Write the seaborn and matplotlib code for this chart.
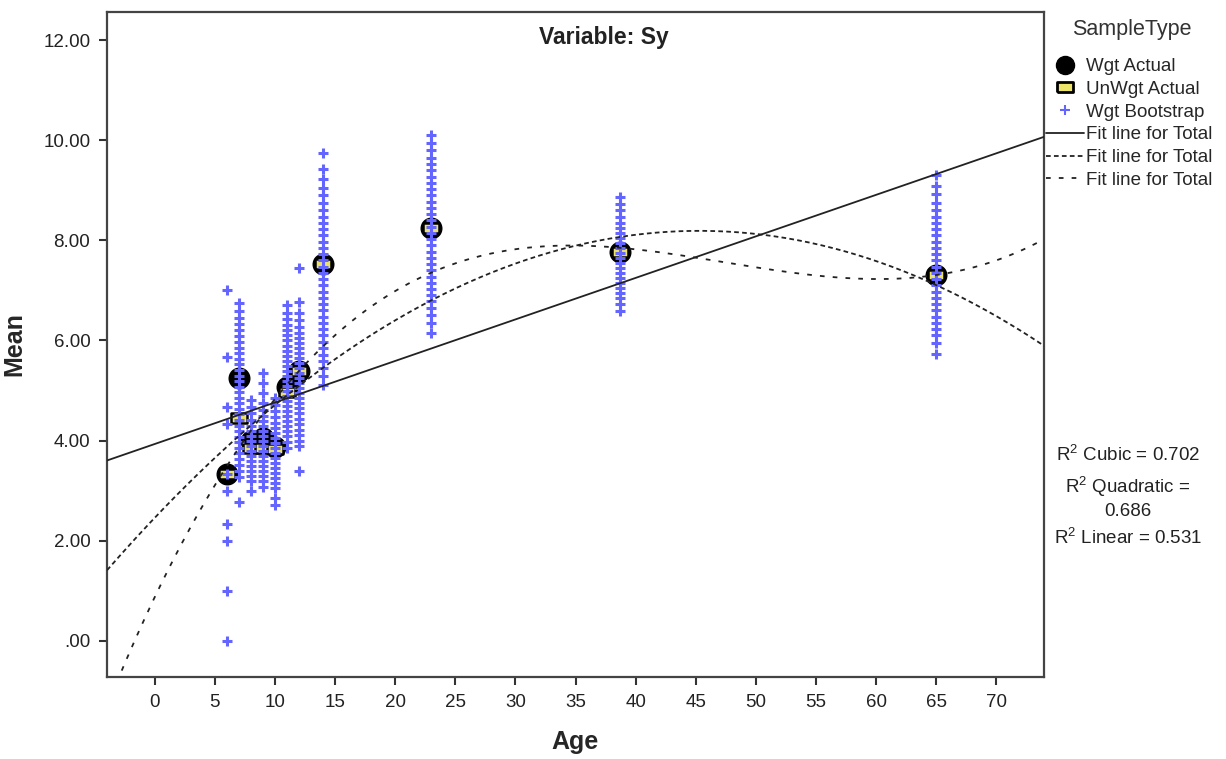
import numpy as np
import pandas as pd
import matplotlib
matplotlib.use("Agg")
import matplotlib.pyplot as plt
from matplotlib.lines import Line2D
import seaborn as sns

# actual means per age group
ages = [6, 7, 8, 9, 10, 11, 12, 14, 23, 38.7, 65]
wgt_actual = [3.33, 5.25, 4.0, 4.05, 3.87, 5.08, 5.4, 7.52, 8.24, 7.77, 7.31]
unwgt_actual = [3.33, 4.45, 3.85, 3.85, 3.83, 4.98, 5.39, 7.52, 8.24, 7.77, 7.31]

# bootstrap means read per column
boot_6 = [0.0, 1.0, 2.0, 2.33, 3.0, 3.33, 4.33, 4.67, 5.67, 7.0]
boot_7 = [2.78, 3.28, 3.4, 3.52, 3.63, 3.75, 3.85, 3.97, 4.08, 4.2, 4.3, 4.42, 4.53, 4.63, 4.75, 4.86,
          4.97, 5.08, 5.2, 5.3, 5.42, 5.53, 5.63, 5.75, 5.86, 5.97, 6.08, 6.2, 6.32, 6.45, 6.58, 6.74]
boot_8 = [2.99, 3.2, 3.3, 3.4, 3.5, 3.6, 3.7, 3.8, 3.9, 4.0, 4.1, 4.2, 4.3, 4.42, 4.55, 4.68, 4.82]
boot_9 = [3.07, 3.2, 3.3, 3.4, 3.5, 3.6, 3.7, 3.8, 3.9, 4.0, 4.1, 4.2, 4.3, 4.4, 4.5, 4.62, 4.75,
          4.95, 5.15, 5.35]
boot_10 = [2.72, 2.85, 3.05, 3.15, 3.25, 3.35, 3.45, 3.55, 3.65, 3.75, 3.85, 3.95, 4.05, 4.15, 4.25,
           4.35, 4.47, 4.6, 4.72, 4.85]
boot_11 = [3.86, 3.98, 4.1, 4.2, 4.3, 4.4, 4.5, 4.6, 4.7, 4.8, 4.9, 5.0, 5.1, 5.2, 5.3, 5.4, 5.5, 5.6,
           5.7, 5.8, 5.9, 6.0, 6.1, 6.2, 6.3, 6.42, 6.55, 6.7]
boot_12 = [3.4, 3.9, 4.0, 4.12, 4.22, 4.33, 4.43, 4.55, 4.65, 4.75, 4.85, 4.95, 5.05, 5.15, 5.25, 5.35,
           5.45, 5.55, 5.65, 5.75, 5.85, 5.95, 6.05, 6.15, 6.27, 6.4, 6.55, 6.77, 7.45]
boot_14 = [5.11, 5.3, 5.45, 5.6, 5.72, 5.85, 5.97, 6.1, 6.22, 6.35, 6.47, 6.6, 6.72, 6.85, 6.97, 7.1,
           7.22, 7.35, 7.47, 7.6, 7.72, 7.85, 7.97, 8.1, 8.22, 8.35, 8.47, 8.6, 8.75, 8.9, 9.05, 9.22,
           9.42, 9.74]
boot_23 = [6.14, 6.35, 6.5, 6.65, 6.78, 6.9, 7.02, 7.15, 7.27, 7.4, 7.52, 7.65, 7.77, 7.9, 8.02, 8.15,
           8.27, 8.4, 8.52, 8.65, 8.77, 8.9, 9.02, 9.15, 9.27, 9.4, 9.52, 9.65, 9.8, 9.95, 10.1]
boot_38 = [6.58, 6.72, 6.85, 6.95, 7.05, 7.15, 7.25, 7.35, 7.45, 7.55, 7.65, 7.75, 7.85, 7.95, 8.05,
           8.15, 8.25, 8.35, 8.47, 8.6, 8.72, 8.87]
boot_65 = [5.74, 5.95, 6.1, 6.22, 6.35, 6.47, 6.6, 6.72, 6.85, 6.97, 7.1, 7.22, 7.35, 7.47, 7.6, 7.72,
           7.85, 7.97, 8.1, 8.22, 8.35, 8.47, 8.6, 8.75, 8.92, 9.08, 9.3]
boot_columns = [boot_6, boot_7, boot_8, boot_9, boot_10, boot_11, boot_12, boot_14, boot_23,
                boot_38, boot_65]

# points
lin_age = [-3.9, 16.25, 73.9]
lin_mean = [3.6, 5.29, 10.06]
quad_age = [-3.9, 16.25, 45.3, 61.25, 68.75, 73.9]
quad_mean = [1.42, 5.84, 8.2, 7.45, 6.65, 5.92]
cubic_age = [-2.78, 2.78, 6.8, 16.25, 23, 36, 42, 61.7, 68.4, 73.9]
cubic_mean = [-0.6, 2.15, 3.76, 6.34, 7.45, 7.85, 7.72, 7.28, 7.48, 8.0]

r2_labels = ["R$^2$ Cubic = 0.702", "R$^2$ Quadratic =\n0.686", "R$^2$ Linear = 0.531"]

sns.set_theme(style="ticks")
plt.rcParams["font.family"] = ["Liberation Sans", "DejaVu Sans"]
plt.rcParams["mathtext.fontset"] = "custom"
plt.rcParams["mathtext.rm"] = "Liberation Sans"

actual_df = pd.DataFrame({"Age": ages, "Wgt": wgt_actual, "UnWgt": unwgt_actual})
boot_df = pd.DataFrame({
    "Age": np.repeat(ages, [len(c) for c in boot_columns]),
    "Mean": np.concatenate(boot_columns),
})

fig = plt.figure(figsize=(12.26, 7.59), dpi=100)
ax = fig.add_axes([107 / 1226, 1 - 677 / 759, 937 / 1226, 665 / 759])

rect = [(-1.35, -0.85), (1.35, -0.85), (1.35, 0.85), (-1.35, 0.85), (-1.35, -0.85)]
sns.scatterplot(data=actual_df, x="Age", y="Wgt", marker="o", s=220, color="black",
                edgecolor="black", linewidth=1, ax=ax, zorder=3, legend=False)
sns.scatterplot(data=actual_df, x="Age", y="UnWgt", marker=rect, s=130, color="#ece46a",
                edgecolor="black", linewidth=1.8, ax=ax, zorder=4, legend=False)
sns.scatterplot(data=boot_df, x="Age", y="Mean", marker="+", s=55, color="#6464ff",
                linewidth=2.2, ax=ax, zorder=5, legend=False)

grid = np.linspace(-3.95, 73.95, 400)
fits = [(lin_age, lin_mean, 1, "-"), (quad_age, quad_mean, 2, (0, (2.6, 1.8))),
        (cubic_age, cubic_mean, 3, (0, (2.6, 4.5)))]
for fx, fy, order, ls in fits:
    coef = np.polyfit(fx, fy, order)
    sns.lineplot(x=grid, y=np.polyval(coef, grid), color="#222222", linewidth=1.3,
                 linestyle=ls, ax=ax, zorder=6, legend=False)

ax.set_xlim(-3.95, 73.95)
ax.set_ylim(-0.72, 12.56)
ax.set_xticks(range(0, 71, 5))
yt = [0, 2, 4, 6, 8, 10, 12]
ax.set_yticks(yt)
ax.set_yticklabels([".00", "2.00", "4.00", "6.00", "8.00", "10.00", "12.00"])
ax.tick_params(axis="both", direction="out", length=6, width=1.5, color="#333333",
               labelsize=13.5, labelcolor="#222222", pad=6)
for s in ax.spines.values():
    s.set_color("#444444")
    s.set_linewidth(1.6)
ax.set_xlabel("Age", fontsize=18, fontweight="bold", labelpad=14)
ax.set_ylabel("Mean", fontsize=18, fontweight="bold", labelpad=12)
ax.text(0.53, 0.961, "Variable: Sy", transform=ax.transAxes, ha="center", va="center",
        fontsize=16.5, fontweight="bold", color="#222222")

handles = [
    Line2D([], [], marker="o", color="black", ls="none", markersize=13),
    Line2D([], [], marker=rect, markerfacecolor="#ece46a", markeredgecolor="black",
           markeredgewidth=2, ls="none", markersize=12),
    Line2D([], [], marker="+", color="#6464ff", ls="none", markersize=7, markeredgewidth=1.5),
    Line2D([], [], color="#222222", lw=1.3, ls="-"),
    Line2D([], [], color="#222222", lw=1.3, ls=(0, (2.6, 1.8))),
    Line2D([], [], color="#222222", lw=1.3, ls=(0, (2.6, 4.5))),
]
labels = ["Wgt Actual", "UnWgt Actual", "Wgt Bootstrap", "Fit line for Total",
          "Fit line for Total", "Fit line for Total"]
fig.text(1132 / 1226, 1 - 30 / 759, "SampleType", ha="center", va="center", fontsize=15.5,
         color="#333333")
fig.legend(handles, labels, loc="upper left",
           bbox_to_anchor=(1046 / 1226, 1 - 58 / 759), frameon=False, fontsize=13.5,
           handlelength=2.0, handletextpad=0.15, labelspacing=0.3,
           borderaxespad=0, borderpad=0)

r2_y = [1 - 455 / 759, 1 - 497 / 759, 1 - 538 / 759]
for lab, yy in zip(r2_labels, r2_y):
    fig.text(1128 / 1226, yy, lab, ha="center", va="center", fontsize=13.5, color="#222222",
             linespacing=1.25)

fig.savefig("out.png", dpi=100)
